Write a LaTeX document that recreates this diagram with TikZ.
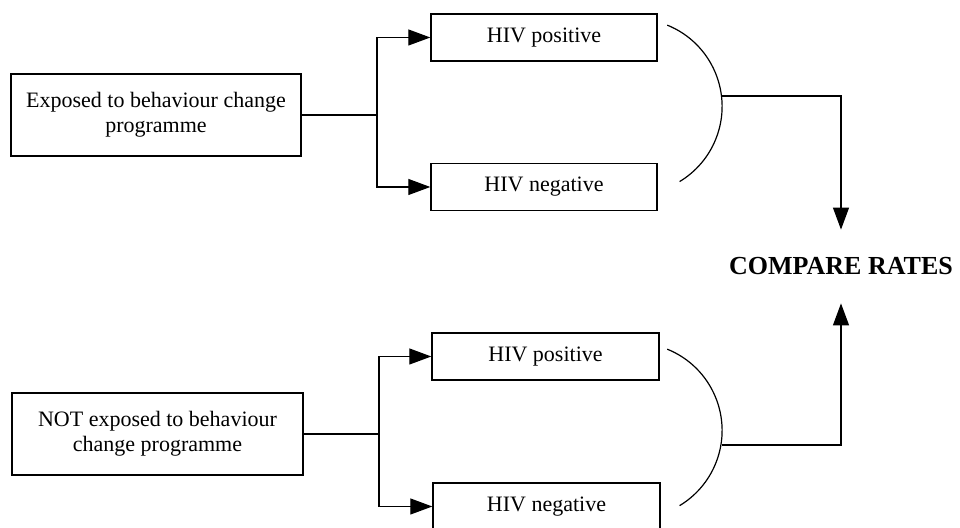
\documentclass[tikz,border=0pt]{standalone}
\usepackage{fontspec}
\setmainfont{Liberation Serif}
\usepackage{tikz}
\usetikzlibrary{arrows.meta}
\usetikzlibrary{positioning}
\usetikzlibrary{calc}
\tikzstyle{box} = [draw, line width=0.7pt, rectangle, align=center, inner sep=0pt, font=\fontsize{11}{12.5}\selectfont]
\tikzstyle{link} = [line width=0.6pt, -{Triangle[length=11pt, width=8pt]}]

\begin{document}
\begin{tikzpicture}[x=5pt, y=5pt]
    \useasboundingbox (0,0) rectangle (96,52.8);
    \node[box, minimum width=145pt, minimum height=41pt] (expo) at (15.6,41.3) {Exposed to behaviour change\\programme};
    \node[box, minimum width=145.5pt, minimum height=41pt] (notexpo) at (15.75,9.4) {NOT exposed to behaviour\\change programme};
    \node[box, minimum width=113pt, minimum height=23.5pt] (posA) at (54.4,49.05) {HIV positive};
    \node[box, minimum width=113pt, minimum height=23.5pt] (negA) at (54.4,34.1) {HIV negative};
    \node[box, minimum width=113.5pt, minimum height=23.5pt] (posB) at (54.55,17.15) {HIV positive};
    \node[box, minimum width=113.5pt, minimum height=23.5pt] (negB) at (54.65,2.15) {HIV negative};
    \node[minimum height=36.5pt, inner sep=0pt, font=\fontsize{13}{15}\selectfont\bfseries] (rates) at (84.1,26.15) {COMPARE RATES};
    \coordinate (jA) at (37.7,41.3);
    \coordinate (jB) at (37.9,9.4);
    \coordinate (cA) at (63.44,42.155);
    \coordinate (cB) at (63.44,9.75);
    \coordinate (oA) at (72.2,43.2);
    \coordinate (oB) at (72.2,8.3);
    \draw[line width=0.6pt] (expo.east) -- (jA);
    \draw[link] (jA) |- (posA.west);
    \draw[link] (jA) |- (negA.west);
    \draw[line width=0.6pt] (notexpo.east) -- (jB);
    \draw[link] (jB) |- (posB.west);
    \draw[link] (jB) |- (negB.west);
    \foreach \c in {cA, cB} {
        \draw[line width=0.6pt] ($(\c)+(68:8.77)$) arc[start angle=68, end angle=-59, radius=8.77];
    }
    \draw[link] (oA) -| (rates.north);
    \draw[link] (oB) -| (rates.south);
\end{tikzpicture}
\end{document}
